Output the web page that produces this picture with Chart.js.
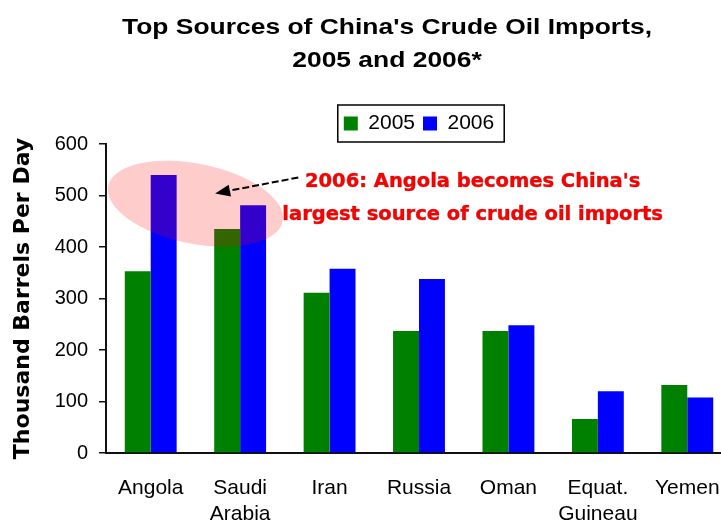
<!DOCTYPE html>
<html>
<head>
<meta charset="utf-8">
<script src="https://cdn.jsdelivr.net/npm/chart.js@4"></script>
<style>
    html, body { margin: 0; padding: 0; background: #fff; overflow: hidden; }
    canvas { display: block; }
</style>
</head>
<body>
<canvas id="chart-oil-imports" width="735" height="523"></canvas>
<script>
const countries = ['Angola', ['Saudi', 'Arabia'], 'Iran', 'Russia', 'Oman', ['Equat.', 'Guineau'], 'Yemen'];
const imports2005 = [353, 435, 311, 237, 237, 66, 132];
const imports2006 = [540, 481, 358, 338, 248, 120, 108];
const seriesNames = ['2005', '2006'];
const yTicks = [0, 100, 200, 300, 400, 500, 600];
const titleLines = ["Top Sources of China's Crude Oil Imports,", '2005 and 2006*'];
const noteLines = ["2006: Angola becomes China's", 'largest source of crude oil imports'];

// title (a bit stretched like the original), pink highlight, arrow, red note, boxed legend
const annotation = {
    id: 'annotation',
    afterDatasetsDraw(chart) {
        const {ctx, scales: {x, y}} = chart;
        ctx.save();
        ctx.fillStyle = 'rgba(255, 0, 0, 0.2)';
        ctx.beginPath();
        ctx.ellipse(x.getPixelForValue(0.5), y.getPixelForValue(484), 89, 40, 0.2, 0, Math.PI * 2);
        ctx.fill();
        ctx.restore();
    },
    afterDraw(chart) {
        const {ctx, scales: {x, y}} = chart;
        ctx.save();

        // title
        ctx.font = 'bold 22px "Liberation Sans", Arial';
        ctx.fillStyle = '#000';
        ctx.textAlign = 'center';
        ctx.textBaseline = 'alphabetic';
        let sx = 530 / ctx.measureText(titleLines[0]).width;
        ctx.save();
        ctx.translate(387, 0);
        ctx.scale(sx, 1);
        ctx.fillText(titleLines[0], 0, 34);
        ctx.fillText(titleLines[1], 0, 67);
        ctx.restore();

        // dashed arrow
        let x0 = x.getPixelForValue(1.65), y0 = y.getPixelForValue(535);
        let x1 = x.getPixelForValue(0.72), y1 = y.getPixelForValue(504);
        let ang = Math.atan2(y1 - y0, x1 - x0);
        let head = 15;
        let bx = x1 - Math.cos(ang) * head, by = y1 - Math.sin(ang) * head;
        ctx.strokeStyle = '#000';
        ctx.lineWidth = 2;
        ctx.setLineDash([7, 3]);
        ctx.beginPath();
        ctx.moveTo(x0, y0);
        ctx.lineTo(bx, by);
        ctx.stroke();
        ctx.setLineDash([]);
        ctx.fillStyle = '#000';
        ctx.beginPath();
        ctx.moveTo(x1, y1);
        ctx.lineTo(bx - Math.sin(ang) * 6, by + Math.cos(ang) * 6);
        ctx.lineTo(bx + Math.sin(ang) * 6, by - Math.cos(ang) * 6);
        ctx.closePath();
        ctx.fill();

        // note text
        ctx.font = 'bold 19.5px "DejaVu Sans"';
        ctx.fillStyle = '#ff0000';
        ctx.strokeStyle = 'rgba(150, 0, 0, 0.5)';
        ctx.lineWidth = 0.7;
        let cx = x.getPixelForValue(3.6);
        ctx.fillText(noteLines[0], cx, y.getPixelForValue(517));
        ctx.strokeText(noteLines[0], cx, y.getPixelForValue(517));
        ctx.fillText(noteLines[1], cx, y.getPixelForValue(453));
        ctx.strokeText(noteLines[1], cx, y.getPixelForValue(453));

        // frame around legend
        let boxes = chart.legend.legendHitBoxes;
        if (boxes && boxes.length) {
            let first = boxes[0], last = boxes[boxes.length - 1];
            ctx.strokeStyle = '#000';
            ctx.lineWidth = 1.5;
            ctx.strokeRect(first.left - 6, first.top - 8, last.left + last.width - first.left + 16, first.height + 16);
        }
        ctx.restore();
    }
};

new Chart(document.getElementById('chart-oil-imports'), {
    type: 'bar',
    data: {
        labels: countries,
        datasets: [{
            label: seriesNames[0],
            data: imports2005,
            backgroundColor: '#008000',
            barPercentage: 1,
            categoryPercentage: 0.58,
        }, {
            label: seriesNames[1],
            data: imports2006,
            backgroundColor: '#0000ff',
            barPercentage: 1,
            categoryPercentage: 0.58,
        }],
    },
    options: {
        responsive: false,
        animation: false,
        layout: {
            padding: {left: 4, right: 3, top: 105, bottom: 0},
        },
        plugins: {
            title: {display: false},
            legend: {
                display: true,
                fullSize: false,
                labels: {
                    boxWidth: 14,
                    boxHeight: 14,
                    padding: 8,
                    color: '#000',
                    font: {family: '"Liberation Sans", Arial', size: 21},
                },
            },
            tooltip: {enabled: false},
        },
        scales: {
            x: {
                grid: {display: false},
                border: {display: true, color: '#111', width: 2},
                ticks: {
                    color: '#000',
                    padding: 15,
                    maxRotation: 0,
                    autoSkip: false,
                    font: {family: '"Liberation Sans", Arial', size: 21},
                },
                afterFit(scale) {
                    scale.height = 70;
                },
            },
            y: {
                min: 0,
                max: 600,
                afterBuildTicks(scale) {
                    scale.ticks = yTicks.map(v => ({value: v}));
                },
                grid: {
                    drawOnChartArea: false,
                    drawTicks: true,
                    tickLength: 7,
                    color: '#111',
                    lineWidth: 1.5,
                },
                border: {display: true, color: '#111', width: 2},
                ticks: {
                    color: '#000',
                    padding: 11,
                    font: {family: '"Liberation Sans", Arial', size: 20},
                },
                title: {
                    display: true,
                    text: 'Thousand Barrels Per Day',
                    color: '#000',
                    font: {family: '"DejaVu Sans"', size: 22, weight: 'bold'},
                    padding: {top: 6, bottom: 0},
                },
                afterFit(scale) {
                    scale.width = 102;
                },
            },
        },
    },
    plugins: [annotation],
});
</script>
</body>
</html>
